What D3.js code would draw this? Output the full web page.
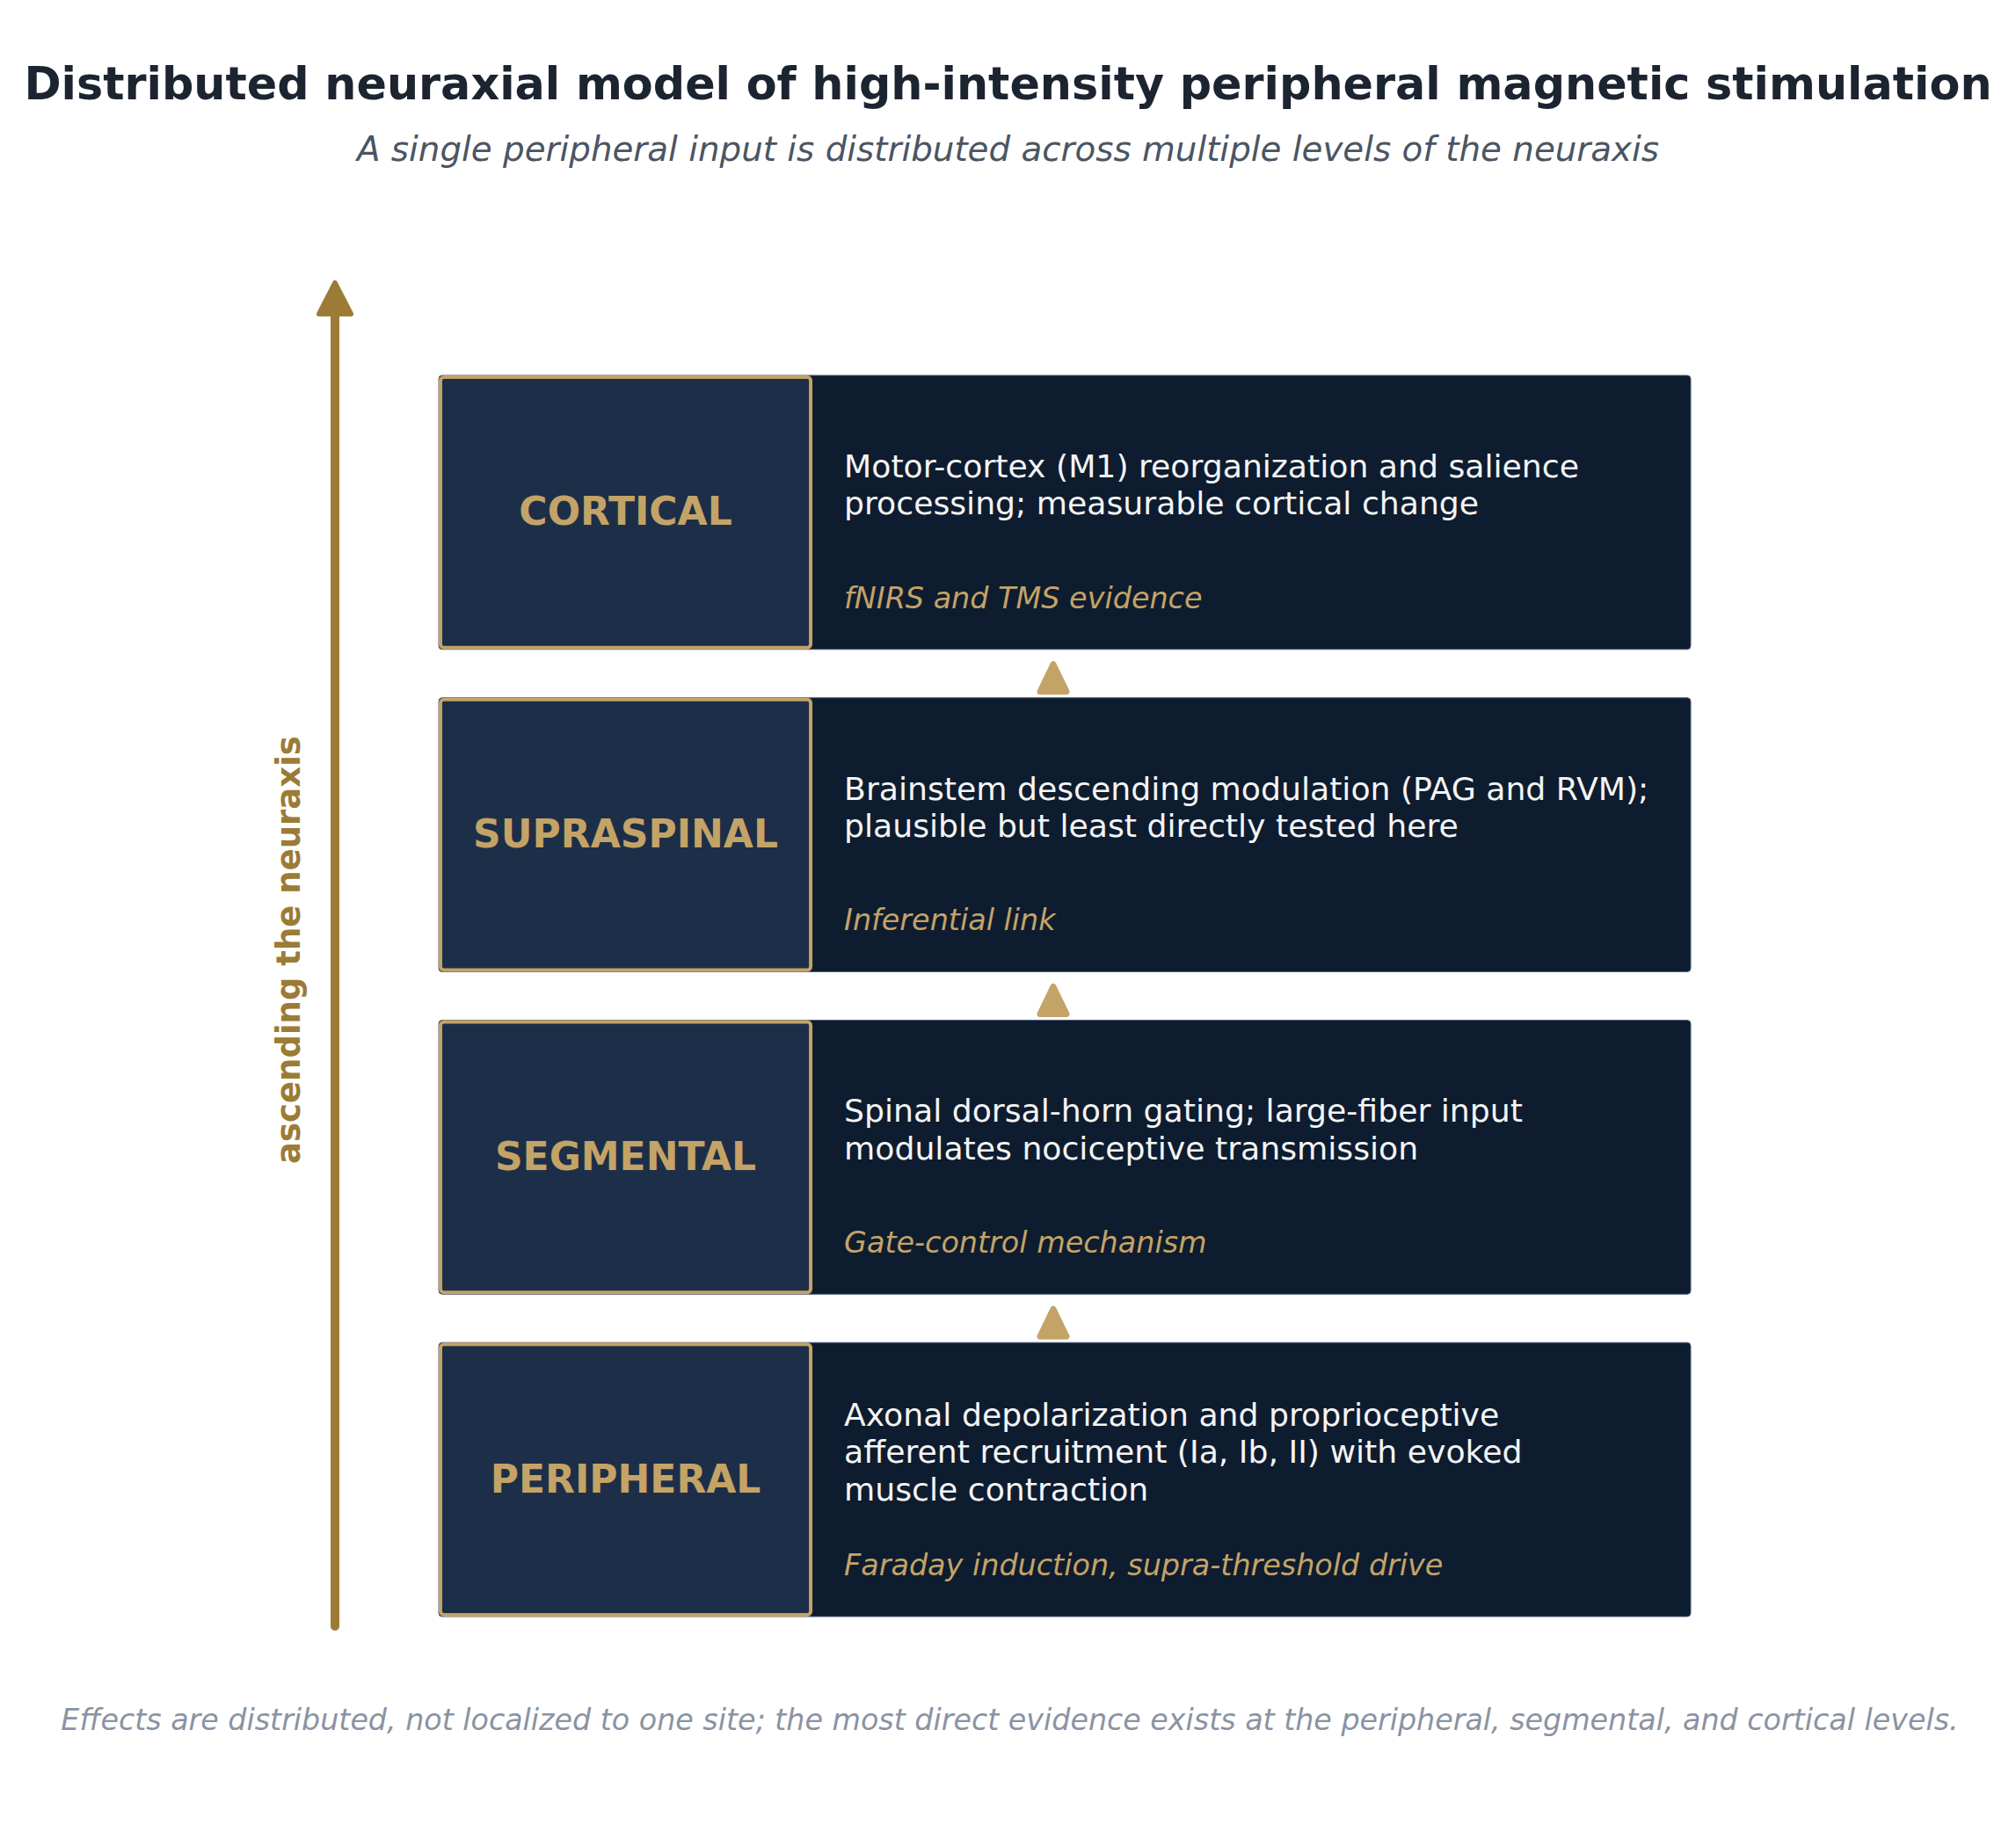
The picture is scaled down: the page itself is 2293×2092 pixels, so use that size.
<!DOCTYPE html>
<html>
<head>
<meta charset="utf-8">
<script src="https://cdn.jsdelivr.net/npm/d3@7"></script>
<style>
  body { margin: 0; background: #fff; }
  svg text { font-family: "DejaVu Sans", sans-serif; }
</style>
</head>
<body>
<svg id="chart" width="2293" height="2092"></svg>
<script>
// levels, listed top to bottom
var levels = ["CORTICAL", "SUPRASPINAL", "SEGMENTAL", "PERIPHERAL"];
var descriptions = [
  ["Motor-cortex (M1) reorganization and salience", "processing; measurable cortical change"],
  ["Brainstem descending modulation (PAG and RVM);", "plausible but least directly tested here"],
  ["Spinal dorsal-horn gating; large-fiber input", "modulates nociceptive transmission"],
  ["Axonal depolarization and proprioceptive", "afferent recruitment (Ia, Ib, II) with evoked", "muscle contraction"]
];
var evidence = [
  "fNIRS and TMS evidence",
  "Inferential link",
  "Gate-control mechanism",
  "Faraday induction, supra-threshold drive"
];
var titleText = "Distributed neuraxial model of high-intensity peripheral magnetic stimulation";
var subtitleText = "A single peripheral input is distributed across multiple levels of the neuraxis";
var axisLabel = "ascending the neuraxis";
var footText = "Effects are distributed, not localized to one site; the most direct evidence exists at the peripheral, segmental, and cortical levels.";

var W = 2293, H = 2092;
var gold = "#9b7b36", tan = "#c4a367", navy = "#1d2f48", dark = "#0e1c2f";

var svg = d3.select("#chart");

// vertical layout of the level boxes
var y = d3.scaleBand()
  .domain(levels)
  .range([427, 1839])
  .paddingInner(0.15)
  .paddingOuter(0);

// horizontal layout (0 = left edge of label box, 1 = right edge of text box)
var x = d3.scaleLinear().domain([0, 1]).range([499, 1923]);
var split = 0.2985;   // where the label box ends
var textX = x(split) + 36;

// Titles
svg.append("text")
  .attr("x", W/2).attr("y", 113)
  .attr("text-anchor", "middle")
  .style("font-size", "50.8px").style("font-weight", "bold")
  .attr("fill", "#1b2430")
  .text(titleText);

svg.append("text")
  .attr("x", W/2).attr("y", 183)
  .attr("text-anchor", "middle")
  .style("font-size", "38.8px").style("font-style", "italic")
  .attr("fill", "#4b5563")
  .text(subtitleText);

// big ascending arrow
var ax = 381;
var arrowTop = 319, arrowBottom = 1850;
svg.append("line")
  .attr("x1", ax).attr("x2", ax)
  .attr("y1", arrowBottom).attr("y2", arrowTop + 36)
  .attr("stroke", gold).attr("stroke-width", 10)
  .attr("stroke-linecap", "round");
svg.append("path")
  .attr("d", "M" + ax + "," + (arrowTop + 3) + " L" + (ax + 18) + "," + (arrowTop + 38) + " L" + (ax - 18) + "," + (arrowTop + 38) + " Z")
  .attr("fill", gold).attr("stroke", gold)
  .attr("stroke-width", 6).attr("stroke-linejoin", "round");

svg.append("text")
  .attr("transform", "translate(341," + ((arrowTop + arrowBottom)/2 - 4) + ") rotate(-90)")
  .attr("text-anchor", "middle")
  .style("font-size", "37px").style("font-weight", "bold")
  .attr("fill", gold)
  .text(axisLabel);

// level rows
var rows = svg.selectAll(".row").data(levels).enter()
  .append("g").attr("class", "row")
  .attr("transform", function(d) { return "translate(0," + y(d) + ")"; });

rows.append("rect")
  .attr("x", x(0)).attr("width", x(1) - x(0))
  .attr("height", y.bandwidth())
  .attr("rx", 4)
  .attr("fill", dark)
  .attr("stroke", "#55627a").attr("stroke-width", 1);

rows.append("rect")
  .attr("x", x(0) + 2).attr("y", 2)
  .attr("width", x(split) - x(0) - 4)
  .attr("height", y.bandwidth() - 4)
  .attr("rx", 4)
  .attr("fill", navy)
  .attr("stroke", tan).attr("stroke-width", 4);

rows.append("text")
  .attr("x", (x(0) + x(split))/2)
  .attr("y", y.bandwidth()/2)
  .attr("dy", "0.33em")
  .attr("text-anchor", "middle")
  .style("font-size", "44px").style("font-weight", "bold")
  .attr("fill", tan)
  .text(function(d) { return d; });

var lineH = 42.5;
rows.append("text")
  .attr("x", textX)
  .attr("fill", "#f4f4f4")
  .style("font-size", "36.2px")
  .each(function(d, i) {
    var lines = descriptions[i];
    var first = 137 - (lines.length - 1) * lineH / 2;
    d3.select(this).selectAll("tspan").data(lines).enter()
      .append("tspan")
      .attr("x", textX)
      .attr("y", function(l, j) { return first + j * lineH; })
      .text(function(l) { return l; });
  });

rows.append("text")
  .attr("x", textX)
  .attr("y", y.bandwidth() - 47)
  .style("font-size", "33.4px").style("font-style", "italic")
  .attr("fill", tan)
  .text(function(d, i) { return evidence[i]; });

// small connector arrows between rows
var cx = 1198;
var links = levels.slice(0, -1);
svg.selectAll(".link").data(links).enter()
  .append("path").attr("class", "link")
  .attr("d", function(d) {
    var top = y(d) + y.bandwidth() + 17;
    var base = top + 31;
    return "M" + cx + "," + top + " L" + (cx + 15) + "," + base + " L" + (cx - 15) + "," + base + " Z";
  })
  .attr("fill", tan).attr("stroke", tan)
  .attr("stroke-width", 7).attr("stroke-linejoin", "round");

// footnote
svg.append("text")
  .attr("x", W/2 + 2).attr("y", 1968)
  .attr("text-anchor", "middle")
  .style("font-size", "33.3px").style("font-style", "italic")
  .attr("fill", "#8a93a3")
  .text(footText);
</script>
</body>
</html>
